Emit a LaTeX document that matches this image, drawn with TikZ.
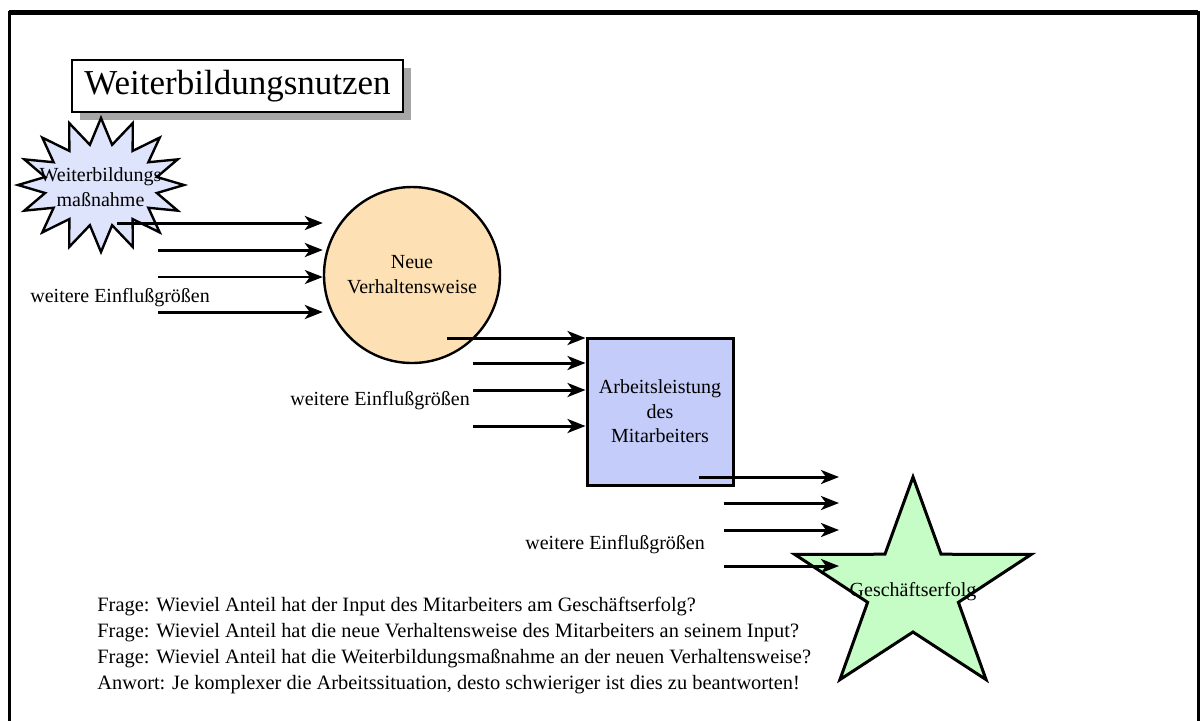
\documentclass[tikz,border=0pt]{standalone}
\usepackage{fontspec}
\setmainfont{Liberation Serif}
\usetikzlibrary{positioning,shapes,shapes.symbols,shadows,arrows.meta}
\definecolor{burstfill}{RGB}{222,228,252}
\definecolor{behavfill}{RGB}{253,224,180}
\definecolor{perffill}{RGB}{196,204,250}
\definecolor{goalfill}{RGB}{198,252,198}
\begin{document}
\begin{tikzpicture}[%
        x=0.5pt,y=-0.5pt,
        every node/.style={font=\fontsize{10}{12.5}\selectfont, inner sep=0pt},
        flow/.style={-{Stealth[length=9pt,width=7pt,inset=2.5pt]}, line width=1.5pt},
        thinflow/.style={flow, line width=0.8pt},
        outline/.style={draw, line width=1.2pt},
        influence/.style={anchor=west}
      ]
      \useasboundingbox (0,0) rectangle (1200,720);
      % frame
      \draw[line width=1.5pt] (9,730) -- (9,12) -- (1198,12) -- (1198,730);
      \draw[line width=2.5pt] (9,12) -- (1198,12);

      \node[outline, fill=white, minimum width=165.5pt, minimum height=26pt,
        drop shadow={shadow xshift=4pt, shadow yshift=-4pt, fill=black!35, opacity=1},
        font=\fontsize{17.5}{20}\selectfont] (title) at (237.5,86) {Weiterbildungsnutzen};

      \node[starburst, starburst points=16, starburst point height=13pt, random starburst=0,
        minimum width=83pt, minimum height=67pt, outline, fill=burstfill] (burst) at (101,185) {};
      \node[align=center] (bursttext) at (100.5,187.5) {Weiterbildungs\\maßnahme};

      \node[circle, outline, fill=behavfill, minimum size=88pt, align=center] (behav) at (412,275) {Neue\\Verhaltensweise};
      \node[rectangle, draw, line width=1.5pt, fill=perffill, minimum width=73pt, minimum height=73.5pt,
        align=center, font=\fontsize{10}{12.3}\selectfont] (perf) at (660,411.5) {Arbeitsleistung\\des\\Mitarbeiters};

      % star
      \coordinate (goal) at (913,589);
      \draw[outline, line width=1.5pt, fill=goalfill] plot[samples at={0,...,9}, variable=\k]
        ({913+1.11*(mod(\k,2)==0 ? 112 : 43)*cos(90+36*\k)}, {589-(mod(\k,2)==0 ? 112 : 43)*sin(90+36*\k)}) -- cycle;
      \node (goaltext) at (913,592) {Geschäftserfolg};

      \node[influence] (infl1) at (30,298) {weitere Einflußgrößen};
      \node[influence] (infl2) at (290,401) {weitere Einflußgrößen};
      \node[influence] (infl3) at (525,545) {weitere Einflußgrößen};

      \coordinate (a1) at (117,223);
      \coordinate (a2) at (158,250);
      \coordinate (a3) at (158,277);
      \coordinate (a4) at (158,312);
      \coordinate (b1) at (447,338);
      \coordinate (b2) at (473,363);
      \coordinate (b3) at (473,390);
      \coordinate (b4) at (473,426);
      \coordinate (c1) at (699,477);
      \coordinate (c2) at (724,503);
      \coordinate (c3) at (724,530);
      \coordinate (c4) at (724,566);
      \coordinate (goalin) at (839,589);

      \path (a1) edge [flow] (a1 -| behav.west)
      (a2) edge [flow] (a2 -| behav.west)
      (a3) edge [thinflow] (a3 -| behav.west)
      (a4) edge [flow] (a4 -| behav.west)
      (b1) edge [flow] (b1 -| perf.west)
      (b2) edge [flow] (b2 -| perf.west)
      (b3) edge [flow] (b3 -| perf.west)
      (b4) edge [flow] (b4 -| perf.west)
      (c1) edge [flow] (c1 -| goalin)
      (c2) edge [flow] (c2 -| goalin)
      (c3) edge [flow] (c3 -| goalin)
      (c4) edge [flow] (c4 -| goalin);

      \node[anchor=north west, align=left, font=\fontsize{10.2}{12.9}\selectfont] (questions) at (97,597)
        {Frage: Wieviel Anteil hat der Input des Mitarbeiters am Geschäftserfolg?\\
         Frage: Wieviel Anteil hat die neue Verhaltensweise des Mitarbeiters an seinem Input?\\
         Frage: Wieviel Anteil hat die Weiterbildungsmaßnahme an der neuen Verhaltensweise?\\
         Anwort: Je komplexer die Arbeitssituation, desto schwieriger ist dies zu beantworten!};
\end{tikzpicture}
\end{document}
